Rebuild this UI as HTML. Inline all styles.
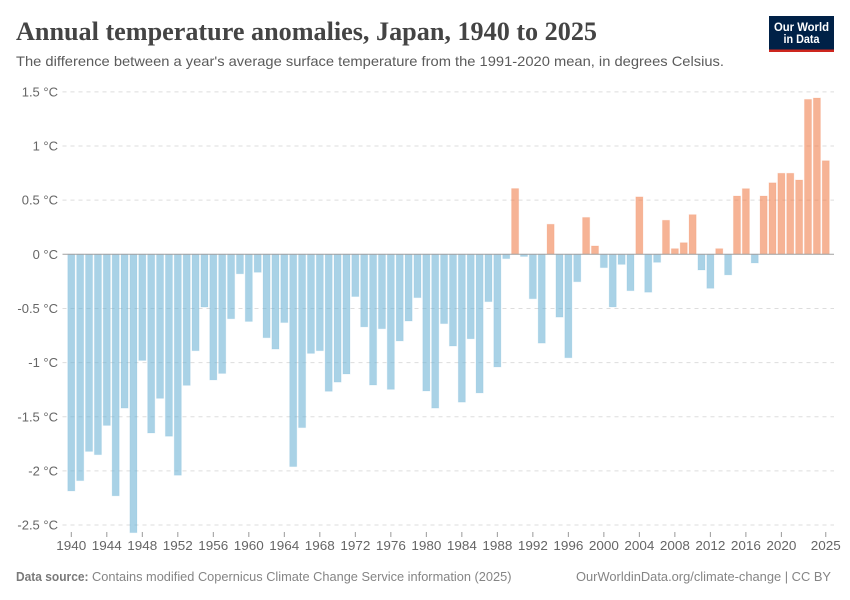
<!DOCTYPE html>
<html lang="en">
<head>
<meta charset="utf-8">
<title>Annual temperature anomalies, Japan, 1940 to 2025</title>
<style>
html,body{margin:0;padding:0;background:#fff;width:850px;height:600px;overflow:hidden}
svg{display:block;font-family:"Liberation Sans",sans-serif}
</style>
</head>
<body>
<svg id="chart" width="850" height="600" viewBox="0 0 850 600" xmlns="http://www.w3.org/2000/svg">
  <rect x="0" y="0" width="850" height="600" fill="#ffffff"/>
  <text x="16" y="40" font-family="'Liberation Serif',serif" font-weight="700" font-size="26" fill="#444444" textLength="581" lengthAdjust="spacingAndGlyphs">Annual temperature anomalies, Japan, 1940 to 2025</text>
  <text x="16" y="66" font-size="14" fill="#5b5b5b" textLength="708" lengthAdjust="spacingAndGlyphs">The difference between a year's average surface temperature from the 1991-2020 mean, in degrees Celsius.</text>
  <g>
    <rect x="769" y="16" width="65" height="36" fill="#002147"/>
    <rect x="769" y="49.5" width="65" height="2.5" fill="#ce261e"/>
    <text x="801.5" y="31" text-anchor="middle" font-size="11.5" font-weight="700" fill="#ffffff" textLength="55" lengthAdjust="spacingAndGlyphs">Our World</text>
    <text x="801.5" y="43" text-anchor="middle" font-size="11.5" font-weight="700" fill="#ffffff" textLength="36" lengthAdjust="spacingAndGlyphs">in Data</text>
  </g>
  <g id="grid"></g>
  <g id="y-labels"></g>
  <g id="bars"></g>
  <line id="zero-line" stroke="#a1a1a1" stroke-width="1"></line>
  <g id="x-axis"></g>
  <text x="16" y="581" font-size="12.5" font-weight="700" fill="#7a7a7a" textLength="72.5" lengthAdjust="spacingAndGlyphs">Data source:</text>
  <text x="92" y="581" font-size="12.5" fill="#858585" textLength="419.5" lengthAdjust="spacingAndGlyphs">Contains modified Copernicus Climate Change Service information (2025)</text>
  <text x="576" y="581" font-size="12.5" fill="#858585" textLength="255" lengthAdjust="spacingAndGlyphs">OurWorldinData.org/climate-change | CC BY</text>
</svg>
<script>
const firstYear = 1940;
const anomalies = [
  -2.185, -2.09, -1.82, -1.85, -1.58, -2.23, -1.42, -2.57, -0.98, -1.65,
  -1.33, -1.68, -2.04, -1.21, -0.89, -0.487, -1.16, -1.10, -0.595, -0.18,
  -0.62, -0.166, -0.77, -0.875, -0.63, -1.96, -1.60, -0.915, -0.89, -1.265,
  -1.18, -1.105, -0.39, -0.67, -1.207, -0.687, -1.247, -0.80, -0.616, -0.40,
  -1.262, -1.42, -0.64, -0.847, -1.365, -0.78, -1.28, -0.437, -1.04, -0.04,
  0.607, -0.02, -0.41, -0.82, 0.277, -0.58, -0.955, -0.253, 0.34, 0.077,
  -0.123, -0.486, -0.093, -0.336, 0.53, -0.35, -0.074, 0.314, 0.052, 0.107,
  0.366, -0.145, -0.314, 0.052, -0.19, 0.538, 0.606, -0.08, 0.538, 0.66,
  0.748, 0.748, 0.686, 1.43, 1.443, 0.864
];
const yTicks = [1.5, 1, 0.5, 0, -0.5, -1, -1.5, -2, -2.5];
const yTickLabels = ["1.5 °C", "1 °C", "0.5 °C", "0 °C", "-0.5 °C", "-1 °C", "-1.5 °C", "-2 °C", "-2.5 °C"];
const xTicks = [1940, 1944, 1948, 1952, 1956, 1960, 1964, 1968, 1972, 1976, 1980, 1984, 1988, 1992, 1996, 2000, 2004, 2008, 2012, 2016, 2020, 2025];

const NS = "http://www.w3.org/2000/svg";
const plotLeft = 62.5, plotRight = 834;
function xScale(year) { return 71.3 + (year - firstYear) * 8.876; }
function yScale(value) { return 254.3 - value * 108.3; }
function make(tag, attrs, parent) {
  const el = document.createElementNS(NS, tag);
  for (const key in attrs) el.setAttribute(key, attrs[key]);
  parent.appendChild(el);
  return el;
}

const grid = document.getElementById("grid");
const yLabels = document.getElementById("y-labels");
yTicks.forEach(function (tick, i) {
  const y = yScale(tick);
  if (tick !== 0) {
    const line = make("line", { x1: plotLeft, x2: plotRight, y1: y, y2: y, stroke: "#dddddd", "stroke-width": 1, "stroke-dasharray": "4 4" }, grid);
    
    
  }
  const label = make("text", { x: 58, y: y + 4.5, "text-anchor": "end", "font-size": 13, fill: "#666666" }, yLabels);
  label.textContent = yTickLabels[i];
  
  
});

const bars = document.getElementById("bars");
const barWidth = 7.1;
anomalies.forEach(function (value, i) {
  const year = firstYear + i;
  const y0 = yScale(0), y1 = yScale(value);
  const positive = value >= 0;
  const bar = make("rect", {
    x: xScale(year) - barWidth / 2,
    y: Math.min(y0, y1),
    width: barWidth,
    height: Math.abs(y1 - y0),
    fill: positive ? "#f0814f" : "#6fb4d6",
    "fill-opacity": 0.6,
    stroke: positive ? "#f0814f" : "#6fb4d6",
    "stroke-opacity": 0.15,
    "stroke-width": 1
  }, bars);
  
  
});

const zero = document.getElementById("zero-line");
zero.setAttribute("x1", plotLeft);
zero.setAttribute("x2", plotRight);
zero.setAttribute("y1", yScale(0));
zero.setAttribute("y2", yScale(0));

const xAxis = document.getElementById("x-axis");
xTicks.forEach(function (year) {
  const x = xScale(year);
  const tick = make("line", { x1: x, x2: x, y1: 532, y2: 537, stroke: "#999999", "stroke-width": 1 }, xAxis);
  
  
  const label = make("text", { x: x, y: 550, "text-anchor": "middle", "font-size": 13, fill: "#666666", textLength: 30, lengthAdjust: "spacingAndGlyphs" }, xAxis);
  label.textContent = String(year);
  
  
});
</script>
</body>
</html>
